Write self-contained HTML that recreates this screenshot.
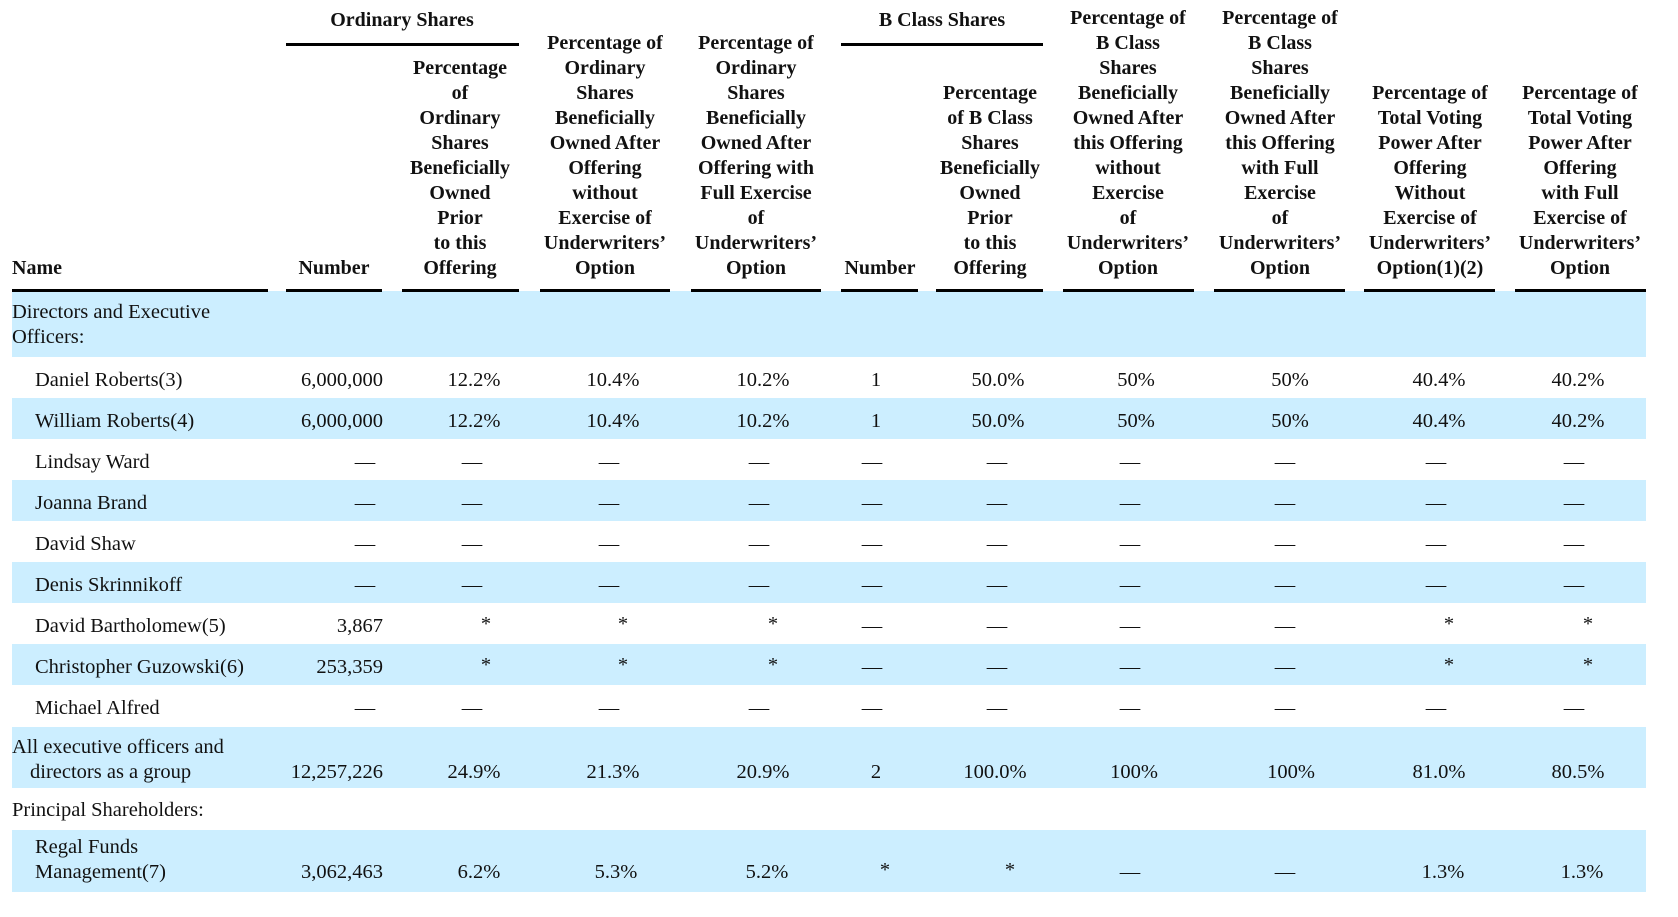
<!DOCTYPE html>
<html><head><meta charset="utf-8"><style>
body{margin:0;width:1678px;height:917px;background:#fff;position:relative;overflow:hidden;font-family:"Liberation Serif","DejaVu Serif",serif;color:#111}
.h{position:absolute;bottom:636px;font-weight:bold;font-size:20px;line-height:25px;text-align:center;transform:translateX(-50%);white-space:nowrap}
.g{position:absolute;top:8px;font-weight:bold;font-size:20px;line-height:25px;transform:translateX(-50%);white-space:nowrap}
.ul{position:absolute;height:3px;background:#000}
.band{position:absolute;left:12px;width:1634px;background:#cceeff}
.t{position:absolute;font-size:20.5px;line-height:24px;white-space:nowrap}
.c{transform:translateX(-50%)}
.r{transform:translateX(-100%)}
</style></head><body>
<div class="band" style="top:291px;height:66px"></div>
<div class="band" style="top:398px;height:41px"></div>
<div class="band" style="top:480px;height:41px"></div>
<div class="band" style="top:562px;height:41px"></div>
<div class="band" style="top:644px;height:41px"></div>
<div class="band" style="top:727px;height:61px"></div>
<div class="band" style="top:830px;height:62px"></div>

<div class="g" style="left:402px">Ordinary Shares</div>
<div class="g" style="left:942px">B Class Shares</div>
<div class="ul" style="left:286px;width:233px;top:43px"></div>
<div class="ul" style="left:841px;width:202px;top:43px"></div>

<div class="h" style="left:12px;transform:none;text-align:left">Name</div>
<div class="h" style="left:334px">Number</div>
<div class="h" style="left:460px">Percentage<br>of<br>Ordinary<br>Shares<br>Beneficially<br>Owned<br>Prior<br>to this<br>Offering</div>
<div class="h" style="left:605px">Percentage of<br>Ordinary<br>Shares<br>Beneficially<br>Owned After<br>Offering<br>without<br>Exercise of<br>Underwriters’<br>Option</div>
<div class="h" style="left:756px">Percentage of<br>Ordinary<br>Shares<br>Beneficially<br>Owned After<br>Offering with<br>Full Exercise<br>of<br>Underwriters’<br>Option</div>
<div class="h" style="left:880px">Number</div>
<div class="h" style="left:990px">Percentage<br>of B Class<br>Shares<br>Beneficially<br>Owned<br>Prior<br>to this<br>Offering</div>
<div class="h" style="left:1128px">Percentage of<br>B Class<br>Shares<br>Beneficially<br>Owned After<br>this Offering<br>without<br>Exercise<br>of<br>Underwriters’<br>Option</div>
<div class="h" style="left:1280px">Percentage of<br>B Class<br>Shares<br>Beneficially<br>Owned After<br>this Offering<br>with Full<br>Exercise<br>of<br>Underwriters’<br>Option</div>
<div class="h" style="left:1430px">Percentage of<br>Total Voting<br>Power After<br>Offering<br>Without<br>Exercise of<br>Underwriters’<br>Option(1)(2)</div>
<div class="h" style="left:1580px">Percentage of<br>Total Voting<br>Power After<br>Offering<br>with Full<br>Exercise of<br>Underwriters’<br>Option</div>

<div class="ul" style="left:12px;width:256px;top:289px"></div>
<div class="ul" style="left:286px;width:96px;top:289px"></div>
<div class="ul" style="left:402px;width:117px;top:289px"></div>
<div class="ul" style="left:540px;width:130px;top:289px"></div>
<div class="ul" style="left:691px;width:130px;top:289px"></div>
<div class="ul" style="left:841px;width:77px;top:289px"></div>
<div class="ul" style="left:936px;width:107px;top:289px"></div>
<div class="ul" style="left:1063px;width:131px;top:289px"></div>
<div class="ul" style="left:1214px;width:131px;top:289px"></div>
<div class="ul" style="left:1364px;width:131px;top:289px"></div>
<div class="ul" style="left:1515px;width:131px;top:289px"></div>

<div class="t" style="left:12px;top:300px">Directors and Executive</div>
<div class="t" style="left:12px;top:325px">Officers:</div>
<div id="rows"></div>
<div class="t" style="left:12px;top:735px">All executive officers and</div>
<div class="t" style="left:30px;top:760px">directors as a group</div>
<div class="t" style="left:12px;top:798px">Principal Shareholders:</div>
<div class="t" style="left:35px;top:835px">Regal Funds</div>
<div class="t" style="left:35px;top:860px">Management(7)</div>
<script>
var xs=[474,613,763,876,998,1136,1290,1439,1578];
var dx=[472,609,759,872,997,1130,1285,1436,1574];
var ax=[486,623,773,0,0,0,0,1449,1588];
var D="—";
var rows=[
["Daniel Roberts(3)","6,000,000",["12.2%","10.4%","10.2%","1","50.0%","50%","50%","40.4%","40.2%"]],
["William Roberts(4)","6,000,000",["12.2%","10.4%","10.2%","1","50.0%","50%","50%","40.4%","40.2%"]],
["Lindsay Ward",D,[D,D,D,D,D,D,D,D,D]],
["Joanna Brand",D,[D,D,D,D,D,D,D,D,D]],
["David Shaw",D,[D,D,D,D,D,D,D,D,D]],
["Denis Skrinnikoff",D,[D,D,D,D,D,D,D,D,D]],
["David Bartholomew(5)","3,867",["*","*","*",D,D,D,D,"*","*"]],
["Christopher Guzowski(6)","253,359",["*","*","*",D,D,D,D,"*","*"]],
["Michael Alfred",D,[D,D,D,D,D,D,D,D,D]]];
var h="";
function put(x,y,s,cls){h+='<div class="t '+cls+'" style="left:'+x+'px;top:'+y+'px">'+s+'</div>';}
rows.forEach(function(r,i){var y=368+i*41;put(35,y,r[0],"");
 if(r[1]==D)put(365,y,D,"c");else put(383,y,r[1],"r");
 r[2].forEach(function(v,j){var x=v==D?dx[j]:(v=="*"?ax[j]:xs[j]);put(x,y+(v=="*"?-2:0),v,"c");});});
var y=760;put(383,y,"12,257,226","r");
["24.9%","21.3%","20.9%","2","100.0%","100%","100%","81.0%","80.5%"].forEach(function(v,j){put([474,613,763,876,995,1134,1291,1439,1578][j],y,v,"c");});
y=860;put(383,y,"3,062,463","r");
[["6.2%",479],["5.3%",616],["5.2%",767],["*",885],["*",1010],[D,1130],[D,1285],["1.3%",1443],["1.3%",1582]].forEach(function(a){put(a[1],y+(a[0]=="*"?-2:0),a[0],"c");});
document.getElementById("rows").innerHTML=h;
</script>
</body></html>
